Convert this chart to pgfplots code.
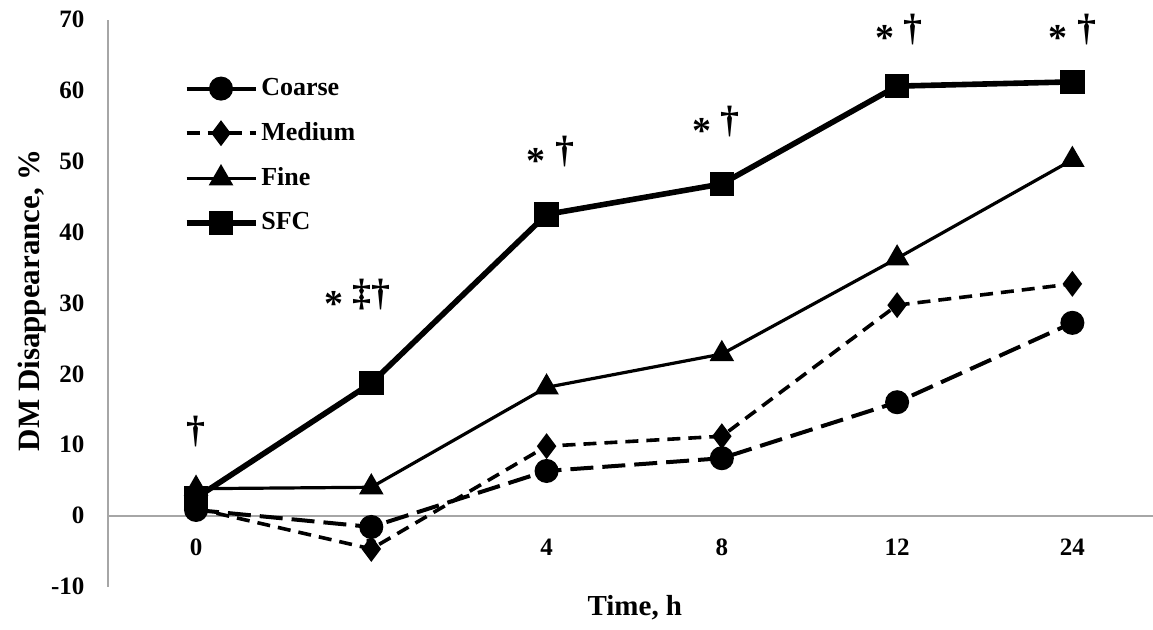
\documentclass[border=0pt]{standalone}
\usepackage{pgfplots}
\pgfplotsset{compat=1.18}
\usepackage{fontspec}
\setmainfont{Liberation Serif}
\definecolor{axgray}{RGB}{166,166,166}
\newcommand{\myast}{\raisebox{-0.28em}{*}}
\begin{document}
\begin{tikzpicture}
\begin{axis}[
  scale only axis,
  width=522.3bp, height=283.5bp,
  xmin=-0.5, xmax=5.46, ymin=-10, ymax=70,
  clip=false,
  axis x line=middle, axis y line=left,
  axis line style={-, draw=axgray, line width=1bp},
  hide obscured x ticks=false, hide obscured y ticks=false,
  xtick={0,1,2,3,4,5}, xticklabels={0,2,4,8,12,24},
  ytick={-10,0,10,20,30,40,50,60,70},
  yticklabels={-10,0,10,20,30,40,50,60,70},
  major tick length=0pt,
  tick style={draw=none},
  ticklabel style={font=\fontsize{12.5bp}{14bp}\selectfont\bfseries},
  xticklabel style={yshift=-8bp},
  yticklabel style={xshift=-8.5bp},
  xlabel={Time, h},
  ylabel={DM Disappearance, \%},
  xlabel style={at={(axis description cs:0.504,-0.038)}, anchor=center, font=\fontsize{14.5bp}{17bp}\selectfont\bfseries},
  ylabel style={at={(axis description cs:-0.073,0.505)}, anchor=center, font=\fontsize{15.5bp}{17bp}\selectfont\bfseries},
  legend style={at={(axis description cs:0.066,0.909)}, anchor=north west, draw=none, fill=none,
    font=\fontsize{13bp}{15bp}\selectfont\bfseries, row sep=9bp,
    nodes={inner sep=1.5bp}},
  legend cell align=left,
  legend image code/.code={\draw[mark repeat=2,mark phase=2] plot coordinates {(0bp,0bp)(17.25bp,0bp)(34.5bp,0bp)};},
]
\addplot[black, line width=2bp, dash pattern=on 11.5bp off 4.5bp, mark=*, mark size=5bp, mark options={solid, fill=black}, legend image post style={solid}]
  coordinates {(0,0.8) (1,-1.6) (2,6.3) (3,8.1) (4,16.0) (5,27.2)};
\addlegendentry{Coarse}
\addplot[black, line width=1.8bp, dash pattern=on 6.5bp off 4bp, mark=diamond*, mark size=5bp, mark options={solid, fill=black}]
  coordinates {(0,1.0) (1,-4.7) (2,9.8) (3,11.2) (4,29.7) (5,32.7)};
\addlegendentry{Medium}
\addplot[black, line width=1.6bp, mark=triangle*, mark size=5.5bp, mark options={solid, fill=black}]
  coordinates {(0,3.8) (1,4.0) (2,18.1) (3,22.8) (4,36.3) (5,50.2)};
\addlegendentry{Fine}
\addplot[black, line width=2.8bp, mark=square*, mark size=4.75bp, mark options={solid, fill=black}]
  coordinates {(0,2.5) (1,18.7) (2,42.5) (3,46.8) (4,60.6) (5,61.2)};
\addlegendentry{SFC}
\begin{scope}[every node/.style={font=\fontsize{19bp}{21bp}\selectfont\bfseries, anchor=center, inner sep=0pt}]
\node at (axis cs:0,11.8) {†};
\node[xshift=-7bp] at (axis cs:1,30.7) {\myast\ ‡†};
\node[xshift=2bp] at (axis cs:2,50.9) {\myast\ †};
\node[xshift=-3bp] at (axis cs:3,55.1) {\myast\ †};
\node[xshift=1bp] at (axis cs:4,68.2) {\myast\ †};
\node[xshift=0bp] at (axis cs:5,68.2) {\myast\ †};
\end{scope}
\coordinate (bbsw) at (axis description cs:0,0);
\end{axis}
\pgfresetboundingbox
\path[use as bounding box] (bbsw) ++(-54.2bp,-21.75bp) rectangle ++(576.5bp,315bp);
\end{tikzpicture}
\end{document}
